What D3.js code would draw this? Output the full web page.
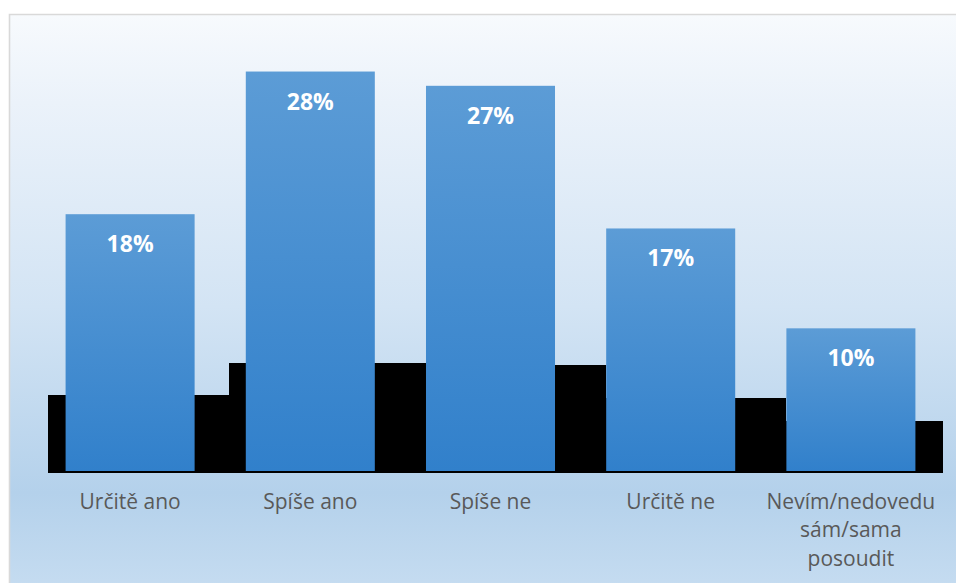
<!DOCTYPE html>
<html>
<head>
<meta charset="utf-8">
<script src="https://cdn.jsdelivr.net/npm/d3@7"></script>
<style>
  html, body { margin: 0; padding: 0; background: #ffffff; }
  svg { display: block; }
</style>
</head>
<body>
<svg id="chart" width="956" height="583"></svg>
<script>
// Survey answers and their shares (percent)
const categories = ["Určitě ano", "Spíše ano", "Spíše ne", "Určitě ne", "Nevím/nedovedu sám/sama posoudit"];
const tickLabels = [["Určitě ano"], ["Spíše ano"], ["Spíše ne"], ["Určitě ne"], ["Nevím/nedovedu", "sám/sama", "posoudit"]];
const shares = [18, 28, 27, 17, 10];
const valueLabels = ["18%", "28%", "27%", "17%", "10%"];
// Dark backing series drawn behind the blue bars (same percent axis)
const backing = [5.3, 7.6, 7.4, 5.1, 3.5];
const yDomain = [0, 30];

const W = 956, H = 583;
const svg = d3.select("#chart");
const defs = svg.append("defs");

// Chart area background: pale at the top, light blue towards the bottom
const bg = defs.append("linearGradient").attr("id", "bgGrad")
  .attr("x1", 0).attr("y1", 0).attr("x2", 0).attr("y2", 1);
[[0, "#f7fafd"], [0.15, "#ebf2fa"], [0.5, "#d3e4f4"], [0.82, "#b4d1eb"], [1, "#c7ddf1"]]
  .forEach(([o, c]) => bg.append("stop").attr("offset", o).attr("stop-color", c));

// Bar fill: lighter blue on top, deeper blue at the base
const barGrad = defs.append("linearGradient").attr("id", "barGrad")
  .attr("x1", 0).attr("y1", 0).attr("x2", 0).attr("y2", 1);
[[0, "#5c9cd6"], [1, "#3180cb"]]
  .forEach(([o, c]) => barGrad.append("stop").attr("offset", o).attr("stop-color", c));

svg.append("rect")
  .attr("x", 10).attr("y", 15).attr("width", W).attr("height", H)
  .attr("fill", "url(#bgGrad)");
svg.append("path")
  .attr("d", `M9.5,${H} V14.5 H${W}`)
  .attr("fill", "none").attr("stroke", "#d9d9d9").attr("stroke-width", 1.6);

const x = d3.scaleBand()
  .domain(categories)
  .range([40, 941])
  .paddingInner(0.284)
  .paddingOuter(0.142);

const y = d3.scaleLinear().domain(yDomain).range([471, 43]);

const plotLeft = 48, plotRight = 943;
const gap = x.step() - x.bandwidth();

// Backing rectangles: each starts a little left of its bar and runs to the next bar
const backRects = categories.map((c, i) => {
  const x0 = i === 0 ? plotLeft : Math.round(x(c) - 16.5);
  let x1 = Math.min(Math.round(x(c) + x.bandwidth() + gap), plotRight);
  if (i === 0) x1 = Math.round(x(categories[1]) - 16.5) + 1;
  return { c, i, x0, x1, v: backing[i] };
});
const drawOrder = [backRects[0], ...backRects.slice(1).reverse()];

svg.append("g").attr("shape-rendering", "crispEdges").selectAll("rect")
  .data(drawOrder)
  .join("rect")
  .attr("x", d => d.x0)
  .attr("width", d => d.x1 - d.x0)
  .attr("y", d => Math.round(y(d.v)))
  .attr("height", d => y(0) + 2 - Math.round(y(d.v)))
  .attr("fill", "#000000");

// Blue bars
svg.append("g").selectAll("rect")
  .data(shares)
  .join("rect")
  .attr("x", (d, i) => x(categories[i]))
  .attr("width", x.bandwidth())
  .attr("y", d => y(d))
  .attr("height", d => y(0) - y(d))
  .attr("fill", "url(#barGrad)");

// Value labels inside the bar tops
svg.append("g").selectAll("text")
  .data(shares)
  .join("text")
  .attr("x", (d, i) => x(categories[i]) + x.bandwidth() / 2)
  .attr("y", d => y(d) + 38)
  .attr("text-anchor", "middle")
  .attr("font-family", "'Open Sans', sans-serif")
  .attr("font-weight", 700)
  .attr("font-size", 23)
  .attr("fill", "#ffffff")
  .text((d, i) => valueLabels[i]);

// Category axis labels (wrapped lines)
const ticks = svg.append("g").selectAll("text")
  .data(categories)
  .join("text")
  .attr("x", d => x(d) + x.bandwidth() / 2)
  .attr("y", y(0) + 38)
  .attr("text-anchor", "middle")
  .attr("font-family", "'Open Sans', sans-serif")
  .attr("font-size", 21)
  .attr("fill", "#595959");
ticks.each(function(d, i) {
  d3.select(this).selectAll("tspan")
    .data(tickLabels[i])
    .join("tspan")
    .attr("x", x(d) + x.bandwidth() / 2)
    .attr("dy", (t, j) => j === 0 ? 0 : 28.4)
    .text(t => t);
});
</script>
</body>
</html>
